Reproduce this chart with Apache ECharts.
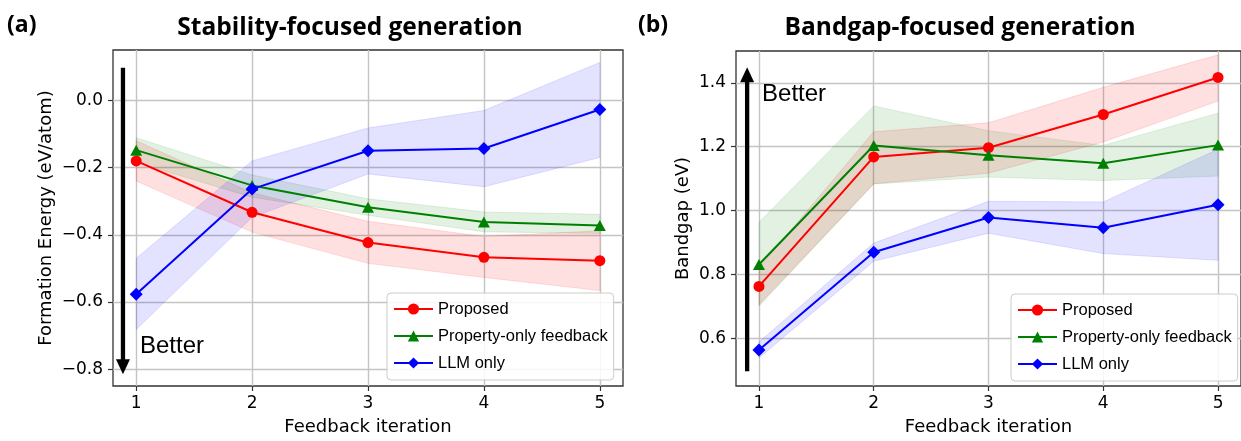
<!DOCTYPE html>
<html><head><meta charset="utf-8">
<script src="https://cdn.jsdelivr.net/npm/echarts@6/dist/echarts.min.js"></script>
<style>html,body{margin:0;padding:0;background:#fff}#c{width:1241px;height:441px}</style>
</head><body><div id="c"></div>
<script>
// ---------- data ----------
const iterations = [1, 2, 3, 4, 5];
const seriesNames = ['Proposed', 'Property-only feedback', 'LLM only'];
const panelTitles = ['Stability-focused generation', 'Bandgap-focused generation'];
const panelLetters = ['(a)', '(b)'];
const xAxisTitle = 'Feedback iteration';
const yAxisTitles = ['Formation Energy (eV/atom)', 'Bandgap (eV)'];
const stabTicks = [-0.8, -0.6, -0.4, -0.2, 0.0];
const gapTicks = [0.6, 0.8, 1.0, 1.2, 1.4];

// (a) stability
const stabProposed   = [-0.180, -0.333, -0.423, -0.467, -0.477];
const stabProposedLo = [-0.240, -0.392, -0.485, -0.527, -0.566];
const stabProposedHi = [-0.120, -0.275, -0.360, -0.405, -0.388];
const stabProperty   = [-0.148, -0.253, -0.318, -0.362, -0.372];
const stabPropertyLo = [-0.185, -0.288, -0.342, -0.391, -0.396];
const stabPropertyHi = [-0.111, -0.222, -0.293, -0.332, -0.339];
const stabLLM        = [-0.577, -0.264, -0.150, -0.143, -0.027];
const stabLLMLo      = [-0.682, -0.348, -0.219, -0.257, -0.170];
const stabLLMHi      = [-0.470, -0.180, -0.082, -0.030, 0.113];

// (b) bandgap
const gapProposed   = [0.762, 1.168, 1.197, 1.301, 1.417];
const gapProposedLo = [0.705, 1.084, 1.117, 1.215, 1.343];
const gapProposedHi = [0.820, 1.247, 1.275, 1.386, 1.488];
const gapProperty   = [0.831, 1.204, 1.173, 1.148, 1.205];
const gapPropertyLo = [0.700, 1.083, 1.105, 1.094, 1.108];
const gapPropertyHi = [0.963, 1.328, 1.250, 1.204, 1.305];
const gapLLM        = [0.563, 0.869, 0.978, 0.946, 1.018];
const gapLLMLo      = [0.538, 0.841, 0.929, 0.865, 0.844];
const gapLLMHi      = [0.588, 0.898, 1.029, 1.027, 1.192];

// ---------- styling ----------
const colors = ['#ff0000', '#008000', '#0000ff'];
const bandFill = ['rgba(255,0,0,0.12)', 'rgba(0,128,0,0.11)', 'rgba(0,0,255,0.11)'];
const symbols = ['circle', 'triangle', 'diamond'];
const symbolSizes = [11, [12, 11], 13];
const TICK_FONT = 'DejaVu Sans';
const LEG_FONT = 'Liberation Sans';

const chart = echarts.init(document.getElementById('c'), null, {renderer: 'canvas'});

function fmtTick(v) { return v.toFixed(1).replace('-', '\u2212'); }

function xAxisOpt(gi) {
  return {
    type: 'value', gridIndex: gi, min: 0.8, max: 5.2,
    name: xAxisTitle, nameLocation: 'middle', nameGap: 32,
    nameTextStyle: {fontFamily: TICK_FONT, fontSize: 18, color: '#000'},
    axisLine: {show: false, onZero: false},
    axisTick: {show: true, inside: false, length: 5, lineStyle: {color: '#333', width: 1.2}, customValues: iterations},
    axisLabel: {fontFamily: TICK_FONT, fontSize: 17, color: '#000', margin: 9, customValues: iterations,
      formatter: v => String(Math.round(v))},
    splitLine: {show: true, lineStyle: {color: '#c4c4c4', width: 1.4}}
  };
}
function yAxisOpt(gi, min, max, ticks, nameGap) {
  return {
    type: 'value', gridIndex: gi, min: min, max: max,
    name: yAxisTitles[gi], nameLocation: 'middle', nameGap: nameGap, nameRotate: 90,
    nameTextStyle: {fontFamily: TICK_FONT, fontSize: 18, color: '#000'},
    axisLine: {show: false, onZero: false},
    axisTick: {show: true, inside: false, length: 5, lineStyle: {color: '#333', width: 1.2}, customValues: ticks},
    axisLabel: {fontFamily: TICK_FONT, fontSize: 17, color: '#000', margin: 10, customValues: ticks, formatter: fmtTick},
    splitLine: {show: true, lineStyle: {color: '#c4c4c4', width: 1.4}}
  };
}

function lineSeries(gi, k, vals) {
  return {
    type: 'line', name: seriesNames[k], xAxisIndex: gi, yAxisIndex: gi, z: 5,
    data: iterations.map((x, i) => [x, vals[i]]),
    symbol: symbols[k], symbolSize: symbolSizes[k], showAllSymbol: true,
    lineStyle: {color: colors[k], width: 2},
    itemStyle: {color: colors[k]},
    animation: false
  };
}
function bandSeries(gi, k, lo, hi) {
  return {
    type: 'custom', name: 'band-' + gi + '-' + k, xAxisIndex: gi, yAxisIndex: gi, z: 1, silent: true,
    data: iterations.map((x, i) => [x, lo[i], hi[i]]),
    encode: {x: 0, y: [1, 2]},
    renderItem: function (params, api) {
      if (params.dataIndex !== 0) return null;
      const pts = [];
      for (let i = 0; i < iterations.length; i++) pts.push(api.coord([iterations[i], hi[i]]));
      for (let i = iterations.length - 1; i >= 0; i--) pts.push(api.coord([iterations[i], lo[i]]));
      return {type: 'polygon', shape: {points: pts},
        style: {fill: bandFill[k], stroke: bandFill[k], lineWidth: 1}};
    },
    animation: false
  };
}

function legendOpt(left, top) {
  return {
    show: true, orient: 'vertical', left: left, top: top,
    data: seriesNames,
    itemWidth: 39, itemHeight: 14, itemGap: 9,
    padding: [7, 6, 8, 6],
    backgroundColor: 'rgba(255,255,255,0.85)', borderColor: '#cccccc', borderWidth: 1, borderRadius: 4,
    textStyle: {fontFamily: LEG_FONT, fontSize: 16.5, color: '#000', lineHeight: 18},
    selectedMode: false
  };
}

chart.setOption({
  animation: false,
  backgroundColor: '#ffffff',
  grid: [
    {left: 113, top: 50, width: 510, height: 338.3, show: true, borderColor: '#333', borderWidth: 1.3, backgroundColor: 'transparent'},
    {left: 736, top: 51, width: 511, height: 338.3, show: true, borderColor: '#333', borderWidth: 1.3, backgroundColor: 'transparent'}
  ],
  xAxis: [xAxisOpt(0), xAxisOpt(1)],
  yAxis: [yAxisOpt(0, -0.85, 0.15, stabTicks, 58), yAxisOpt(1, 0.45, 1.5, gapTicks, 44)],
  legend: [legendOpt(387, 293), legendOpt(1011, 294)],
  series: [
    bandSeries(0, 0, stabProposedLo, stabProposedHi),
    bandSeries(0, 1, stabPropertyLo, stabPropertyHi),
    bandSeries(0, 2, stabLLMLo, stabLLMHi),
    lineSeries(0, 0, stabProposed),
    lineSeries(0, 1, stabProperty),
    lineSeries(0, 2, stabLLM),
    bandSeries(1, 0, gapProposedLo, gapProposedHi),
    bandSeries(1, 1, gapPropertyLo, gapPropertyHi),
    bandSeries(1, 2, gapLLMLo, gapLLMHi),
    lineSeries(1, 0, gapProposed),
    lineSeries(1, 1, gapProperty),
    lineSeries(1, 2, gapLLM)
  ]
});

// ---------- annotations (placed through the axes' scales) ----------
const arrowSpecs = [
  {grid: 0, from: [0.886, 0.097], to: [0.886, -0.815]},
  {grid: 1, from: [0.897, 0.496], to: [0.897, 1.449]}
];
const betterSpecs = [
  {grid: 0, at: [1.033, -0.768]},
  {grid: 1, at: [1.027, 1.326]}
];
const graphics = [];
arrowSpecs.forEach(a => {
  const p0 = chart.convertToPixel({gridIndex: a.grid}, a.from);
  const p1 = chart.convertToPixel({gridIndex: a.grid}, a.to);
  const dir = Math.sign(p1[1] - p0[1]);
  const headLen = 15, headHalf = 7;
  const base = p1[1] - dir * headLen;
  graphics.push({type: 'line', z: 20, shape: {x1: p0[0], y1: p0[1], x2: p1[0], y2: base + dir * 1},
    style: {stroke: '#000', lineWidth: 4.3}});
  graphics.push({type: 'polygon', z: 20, shape: {points: [[p1[0] - headHalf, base], [p1[0] + headHalf, base], [p1[0], p1[1]]]},
    style: {fill: '#000'}});
});
betterSpecs.forEach(b => {
  const p = chart.convertToPixel({gridIndex: b.grid}, b.at);
  graphics.push({type: 'text', z: 20, x: p[0], y: p[1],
    style: {text: 'Better', font: '24px "Liberation Sans"', fill: '#000',
      textAlign: 'left', align: 'left', textVerticalAlign: 'bottom', verticalAlign: 'bottom'}});
});
// titles and panel letters
const titleCenters = [350, 960];
const letterLefts = [7, 638];
for (let i = 0; i < 2; i++) {
  graphics.push({type: 'text', z: 20, x: titleCenters[i], y: 28.5,
    style: {text: panelTitles[i], font: 'bold 24.5px "Open Sans"', fill: '#000',
      textAlign: 'center', align: 'center', textVerticalAlign: 'middle', verticalAlign: 'middle'}});
  graphics.push({type: 'text', z: 20, x: letterLefts[i], y: 25,
    style: {text: panelLetters[i], font: 'bold 23px "Open Sans"', fill: '#000',
      textAlign: 'left', align: 'left', textVerticalAlign: 'middle', verticalAlign: 'middle'}});
}
chart.setOption({graphic: graphics});
</script>
</body></html>
